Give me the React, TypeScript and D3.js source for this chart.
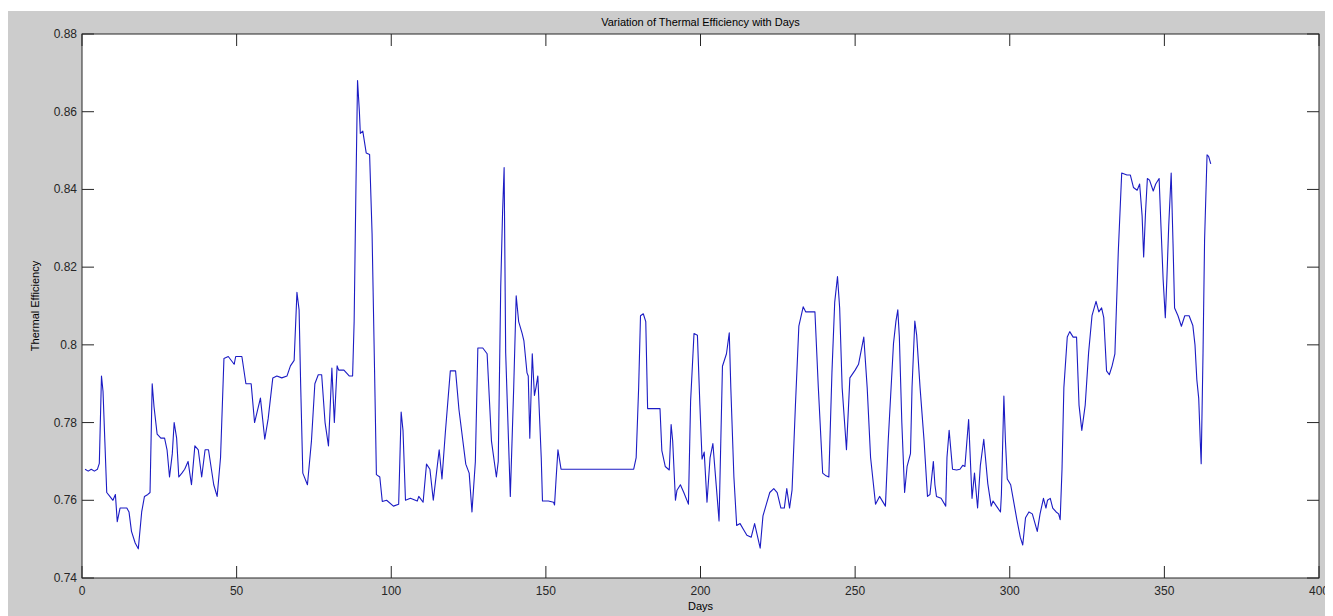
import React from "react";
import * as d3 from "d3";

// daily thermal efficiency as (day, value) vertices
const days = [
  1, 2, 3, 4, 5, 5.6, 6.3, 6.8, 7.4, 8, 9, 10, 10.8, 11.4, 12.3, 14.5, 15.2, 16, 17.2, 18.2,
  19.3, 20.2, 21.3, 22, 22.7, 23.3, 24.3, 25.5, 26.7, 27.5, 28.3, 29.2, 29.8, 30.6, 31.3, 32.3,
  33.2, 34.3, 35.4, 36.5, 37.6, 38.7, 39.8, 40.9, 42.6, 43.7, 44.8, 45.9, 47.3, 49.2, 49.7, 51.7,
  53, 54.7, 55.8, 57.7, 59.1, 60.2, 61.7, 63, 64.6, 66.3, 67.4, 68.6, 69.5, 70.2, 70.7, 71.4,
  72.9, 74.2, 75.3, 76.4, 77.5, 78.6, 79.7, 80.8, 81.6, 82.5, 83, 84.7, 86.4, 87.5, 88, 88.6,
  89.1, 89.7, 90, 90.8, 91.9, 93, 93.8, 94.6, 95.2, 96.3, 97.1, 98.5, 100.7, 102.4, 103.2, 103.8,
  104.6, 106.2, 108.4, 108.9, 110.3, 111.4, 112.5, 113.6, 114.4, 115.5, 116.4, 117.5, 119.1, 120.8,
  121.9, 124.1, 125.2, 126.1, 127.2, 128, 129.6, 131, 132.4, 134, 134.6, 135.4, 136, 136.5, 137,
  138.5, 139.6, 140.4, 141.2, 142.3, 142.9, 143.9, 144.3, 144.8, 145.6, 146.3, 146.8, 147.4, 148.5,
  148.9, 150.8, 152.5, 152.8, 153.3, 153.9, 154.9, 178.4, 179.2, 180, 180.6, 181.5, 182.3, 182.9,
  186.9, 187.5, 188.6, 189.9, 190.5, 191, 191.9, 192.4, 193.5, 194.6, 196.1, 196.8, 197.9, 199,
  199.8, 200.5, 201.2, 202.1, 203.1, 204, 205.1, 206, 207.1, 208.4, 209.3, 209.8, 210.8, 211.7,
  212.8, 213.9, 215, 216.4, 217.5, 219.3, 220.2, 221.3, 222.4, 223.7, 224.8, 226, 227.1, 227.9,
  228.8, 229.6, 230.7, 231.8, 233.2, 234, 237, 238.1, 239.5, 240.6, 241.5, 242.5, 243.4, 244.3,
  245, 245.8, 247.2, 248.3, 250, 251.1, 252.8, 253.9, 255, 256.6, 257.9, 259.8, 260.7, 262.4,
  263.2, 263.8, 264.3, 265.1, 266, 266.8, 267.9, 268.4, 269.3, 269.9, 271, 272.3, 273.4, 274.2,
  275.3, 275.8, 276.3, 277.8, 279.3, 279.7, 280.4, 281.5, 282.8, 283.9, 284.8, 285.5, 286.7,
  287.8, 288.6, 289.6, 290.5, 291.6, 292.9, 294, 294.6, 295.7, 297, 297.3, 298.1, 298.6, 299.2,
  300.3, 301.2, 302.3, 303.4, 304.2, 305.1, 306.2, 307.3, 308.9, 309.8, 310.9, 311.7, 312.2,
  313.1, 313.9, 315, 315.8, 316.3, 316.9, 317.5, 318.6, 319.4, 320.5, 321.6, 322.4, 323.3, 324.4,
  325.5, 326.6, 327.9, 328.8, 329.7, 330.4, 331.3, 332.2, 333.1, 334, 335.1, 336.2, 337.9, 339,
  340, 341.2, 342, 342.8, 343.3, 343.9, 344.5, 345.2, 346.4, 347.2, 348.3, 348.9, 349.6, 350.3,
  350.8, 351.4, 352.2, 352.8, 353.3, 354.4, 355.5, 356.6, 358, 359.2, 359.9, 360.5, 361.1, 361.6,
  361.9, 362.5, 363, 363.8, 364.3, 365,
];

const efficiency = [
  0.768, 0.7675, 0.768, 0.7675, 0.768, 0.7695, 0.792, 0.788, 0.775, 0.762, 0.761, 0.76, 0.7615, 0.7545, 0.758, 0.758, 0.757, 0.752, 0.749, 0.7475,
  0.757, 0.761, 0.7615, 0.762, 0.79, 0.784, 0.777, 0.776, 0.776, 0.773, 0.766, 0.772, 0.78, 0.776, 0.766, 0.767,
  0.768, 0.77, 0.764, 0.774, 0.773, 0.766, 0.773, 0.773, 0.764, 0.761, 0.771, 0.7965, 0.797, 0.795, 0.797, 0.797,
  0.79, 0.79, 0.78, 0.7863, 0.7757, 0.781, 0.7915, 0.792, 0.7915, 0.792, 0.7946, 0.796, 0.8135, 0.809, 0.79, 0.767,
  0.764, 0.7753, 0.79, 0.7923, 0.7923, 0.78, 0.774, 0.794, 0.78, 0.7946, 0.7935, 0.7935, 0.792, 0.792, 0.806, 0.8415,
  0.868, 0.86, 0.8544, 0.855, 0.8494, 0.849, 0.8286, 0.7935, 0.7666, 0.766, 0.7597, 0.76, 0.7585, 0.759, 0.7827, 0.778,
  0.76, 0.7605, 0.7598, 0.761, 0.7595, 0.7693, 0.768, 0.76, 0.7655, 0.773, 0.7655, 0.7775, 0.7933, 0.7933,
  0.7833, 0.7693, 0.767, 0.757, 0.77, 0.7992, 0.7992, 0.7977, 0.7753, 0.766, 0.77, 0.8149, 0.8342, 0.8456, 0.798,
  0.761, 0.789, 0.8126, 0.806, 0.803, 0.801, 0.7928, 0.792, 0.776, 0.7977, 0.787, 0.789, 0.792, 0.771,
  0.7598, 0.7598, 0.7595, 0.7588, 0.7655, 0.773, 0.768, 0.768, 0.771, 0.789, 0.8075, 0.808, 0.806, 0.7836,
  0.7836, 0.7728, 0.7687, 0.7678, 0.7795, 0.7753, 0.76, 0.7626, 0.764, 0.762, 0.759, 0.7855, 0.8029, 0.8025,
  0.7845, 0.7706, 0.7724, 0.7595, 0.771, 0.7746, 0.7637, 0.7547, 0.7945, 0.7977, 0.8031, 0.789, 0.766, 0.7535,
  0.754, 0.7525, 0.751, 0.7505, 0.754, 0.7477, 0.756, 0.759, 0.762, 0.763, 0.762, 0.758, 0.758, 0.763,
  0.758, 0.7626, 0.7845, 0.8048, 0.8098, 0.8085, 0.8085, 0.789, 0.767, 0.7663, 0.766, 0.7928, 0.811, 0.8176,
  0.8095, 0.789, 0.773, 0.7915, 0.7935, 0.795, 0.802, 0.789, 0.771, 0.759, 0.761, 0.7585, 0.7753, 0.8003,
  0.8061, 0.809, 0.802, 0.78, 0.762, 0.7687, 0.772, 0.789, 0.8061, 0.8025, 0.789, 0.7753, 0.761, 0.7615,
  0.77, 0.764, 0.761, 0.7605, 0.7585, 0.771, 0.778, 0.768, 0.7678, 0.768, 0.769, 0.7687, 0.7808,
  0.7605, 0.767, 0.758, 0.769, 0.7757, 0.7643, 0.7585, 0.7598, 0.7585, 0.757, 0.7615, 0.7868, 0.7753, 0.7655,
  0.764, 0.76, 0.755, 0.7505, 0.7485, 0.7555, 0.757, 0.7565, 0.752, 0.7565, 0.7605, 0.758, 0.76,
  0.7605, 0.758, 0.757, 0.7565, 0.755, 0.768, 0.789, 0.802, 0.8034, 0.802, 0.802, 0.7845, 0.778, 0.7845,
  0.798, 0.8075, 0.8112, 0.8085, 0.8095, 0.807, 0.7933, 0.7923, 0.7946, 0.7977, 0.824, 0.8442, 0.8437, 0.8437,
  0.8405, 0.8398, 0.8414, 0.8332, 0.8226, 0.834, 0.8428, 0.8424, 0.8396, 0.8414, 0.8428, 0.8305, 0.8168, 0.807,
  0.8168, 0.8305, 0.8442, 0.826, 0.8095, 0.8075, 0.8048, 0.8075, 0.8075, 0.805, 0.8, 0.791, 0.7863, 0.7753,
  0.7694, 0.798, 0.8269, 0.8489, 0.8485, 0.8466,
];

const xTicks = [0, 50, 100, 150, 200, 250, 300, 350, 400];
const yTicks = [0.74, 0.76, 0.78, 0.8, 0.82, 0.84, 0.86, 0.88];

const W = 1325;
const H = 608;
const margin = { top: 26, right: 14, bottom: 38, left: 74 };
const tickLen = 12;
const font = "Liberation Sans, Arial, sans-serif";

export default function App() {
  const x = d3.scaleLinear().domain([0, 400]).range([margin.left, W - margin.right]);
  const y = d3.scaleLinear().domain([0.74, 0.88]).range([H - margin.bottom, margin.top]);
  const pts: [number, number][] = days.map((d, i) => [d, efficiency[i]]);
  const line = d3
    .line<[number, number]>()
    .x((d) => x(d[0]))
    .y((d) => y(d[1]));

  const x0 = x(0);
  const x1 = x(400);
  const y0 = y(0.74);
  const y1 = y(0.88);
  const axisColor = "#262626";

  return (
    <svg width={W} height={H} style={{ display: "block" }}>
      <rect x={0} y={3} width={W} height={H - 3} fill="#cccccc" />
      <rect x={x0} y={y1} width={x1 - x0} height={y0 - y1} fill="#ffffff" />
      <text x={(x0 + x1) / 2} y={18} textAnchor="middle" fontFamily={font} fontSize={11} fill="#000">
        Variation of Thermal Efficiency with Days
      </text>
      <path d={line(pts) ?? ""} fill="none" stroke="#1c1cc4" strokeWidth={1.1} strokeLinejoin="round" />
      {xTicks.map((t) => (
        <g key={"x" + t}>
          <line x1={x(t)} x2={x(t)} y1={y0} y2={y0 - tickLen} stroke={axisColor} />
          <line x1={x(t)} x2={x(t)} y1={y1} y2={y1 + tickLen} stroke={axisColor} />
          <text x={x(t)} y={y0 + 17} textAnchor="middle" fontFamily={font} fontSize={12} fill={axisColor}>
            {t}
          </text>
        </g>
      ))}
      {yTicks.map((t) => (
        <g key={"y" + t}>
          <line x1={x0} x2={x0 + tickLen} y1={y(t)} y2={y(t)} stroke={axisColor} />
          <line x1={x1} x2={x1 - tickLen} y1={y(t)} y2={y(t)} stroke={axisColor} />
          <text x={x0 - 5} y={y(t) + 4} textAnchor="end" fontFamily={font} fontSize={12} fill={axisColor}>
            {d3.format("")(+t.toFixed(2))}
          </text>
        </g>
      ))}
      <rect x={x0} y={y1} width={x1 - x0} height={y0 - y1} fill="none" stroke={axisColor} strokeWidth={1} />
      <text x={(x0 + x1) / 2} y={H - 6} textAnchor="middle" fontFamily={font} fontSize={11} fill="#000">
        Days
      </text>
      <text
        transform={`translate(${31},${(y0 + y1) / 2}) rotate(-90)`}
        textAnchor="middle"
        fontFamily={font}
        fontSize={11}
        fill="#000"
      >
        Thermal Efficiency
      </text>
    </svg>
  );
}
